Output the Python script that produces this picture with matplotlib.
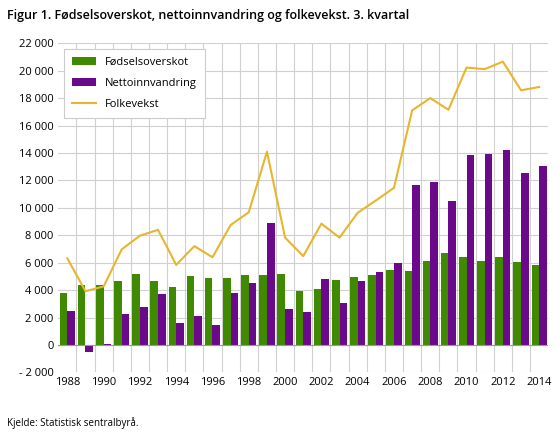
import numpy as np
import matplotlib.pyplot as plt
import matplotlib.ticker as ticker

years = list(range(1988, 2015))
fodsel = [3770, 4410, 4340, 4700, 5200, 4630, 4250, 5010, 4890, 4890, 5130, 5130, 5200,
          3940, 4060, 4770, 4940, 5130, 5440, 5400, 6120, 6690, 6420, 6120, 6420, 6050, 5840]
netto = [2490, -550, 70, 2280, 2800, 3750, 1570, 2140, 1450, 3800, 4510, 8920, 2630,
         2440, 4840, 3060, 4630, 5340, 5980, 11680, 11910, 10470, 13840, 13960, 14230, 12530, 13030]
folkevekst = [6320, 3920, 4270, 6980, 7970, 8400, 5840, 7210, 6400, 8750, 9680, 14100, 7830,
              6480, 8850, 7830, 9640, 10540, 11460, 17110, 18010, 17160, 20240, 20120, 20670, 18580, 18820]

plt.rcParams['font.family'] = ['Open Sans', 'DejaVu Sans']
fig = plt.figure(figsize=(5.6, 4.34), dpi=100)
ax = fig.add_axes([0.104, 0.142, 0.875, 0.758])

x = np.arange(len(years))
w = 0.42
b1 = ax.bar(x - 0.21, fodsel, w, color='#3f8a00', zorder=2)
b2 = ax.bar(x + 0.21, netto, w, color='#6a0a8a', zorder=2)
l1, = ax.plot(x, folkevekst, color='#e8b52e', lw=1.5, zorder=3)

ax.set_xlim(-0.5, len(years) - 0.5)
ax.set_ylim(-2000, 22000)
ax.set_yticks(range(-2000, 22001, 2000))
def fmt(v, pos):
    s = '{:,}'.format(int(abs(v))).replace(',', ' ')
    return ('- ' + s) if v < 0 else s
ax.yaxis.set_major_formatter(ticker.FuncFormatter(fmt))
ax.set_xticks(x[::2])
ax.set_xticklabels([str(y) for y in years[::2]])
ax.set_xticks(x[:-1] + 0.5, minor=True)
ax.grid(axis='x', which='minor', color='#d0d0d0', lw=0.8, zorder=0)
ax.grid(axis='y', which='major', color='#d0d0d0', lw=0.8, zorder=0)
ax.axhline(0, color='#999999', lw=0.8, zorder=2)
ax.tick_params(which='both', length=0, labelsize=8)
for s in ax.spines.values():
    s.set_visible(False)

leg = ax.legend([b1, b2, l1], ['Fødselsoverskot', 'Nettoinnvandring', 'Folkevekst'],
                loc='upper left', bbox_to_anchor=(0.0, 1.0), fontsize=8, frameon=True,
                fancybox=False, edgecolor='#cccccc', borderpad=0.7, handlelength=2.2,
                labelspacing=0.9, framealpha=1)
leg.get_frame().set_linewidth(0.8)

fig.text(0.012, 0.965, 'Figur 1. Fødselsoverskot, nettoinnvandring og folkevekst. 3. kvartal',
         fontsize=9, fontweight='semibold', va='center')
fig.text(0.012, 0.025, 'Kjelde: Statistisk sentralbyrå.', fontsize=7, va='center')

plt.savefig('out.png', dpi=100)
